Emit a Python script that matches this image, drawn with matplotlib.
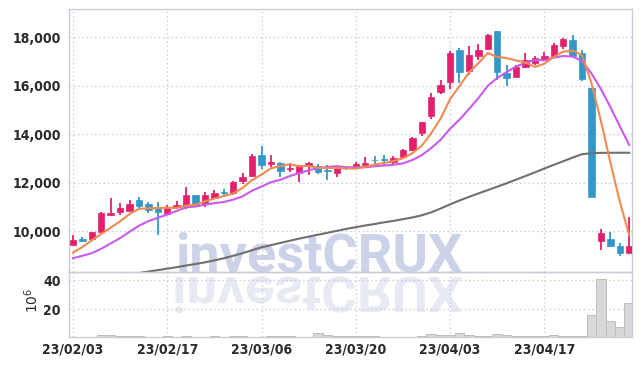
import numpy as np
import pandas as pd
import matplotlib
matplotlib.use("Agg")
import matplotlib.pyplot as plt
from matplotlib.textpath import TextPath
from matplotlib.patches import PathPatch, Rectangle
from matplotlib.font_manager import FontProperties, fontManager
from matplotlib.transforms import Affine2D, IdentityTransform

# ---------------- data ----------------
date_labels = ["23/02/03", "23/02/17", "23/03/06", "23/03/20", "23/04/03", "23/04/17"]
date_label_idx = [0, 10, 20, 30, 40, 50]

opens = [9450, 9690, 9670, 9990, 10680, 10800, 10850, 11290, 11120, 10950,
         10710, 11000, 11090, 11490, 11110, 11370, 11600, 11600, 12090, 12280,
         13140, 12780, 12800, 12570, 12400, 12700, 12690, 12520, 12420, 12630,
         12600, 12740, 12950, 12950, 12870, 13080, 13360, 14070, 14770, 15760,
         16140, 17460, 16620, 17230, 17510, 18260, 16540, 16380, 16790, 16930,
         17070, 17250, 17660, 17890, 17360, 15920, 9620, 9690, 9390, 9120]
highs = [9850, 9760, 9980, 10790, 11360, 11150, 11290, 11400, 11220, 11220,
         11080, 11230, 11840, 11500, 11630, 11700, 11750, 12060, 12390, 13180,
         13520, 13150, 12850, 12800, 12730, 12850, 12780, 12740, 12640, 12700,
         12870, 13080, 13100, 13130, 13100, 13400, 13900, 14520, 15690, 16240,
         17420, 17550, 17630, 17710, 18140, 18270, 16860, 16850, 17340, 17240,
         17380, 17750, 17970, 18100, 17470, 15920, 10080, 9960, 9500, 10600]
lows = [9420, 9560, 9650, 9970, 10650, 10680, 10830, 10950, 10740, 9850,
        10680, 10900, 10920, 11010, 11000, 11330, 11430, 11510, 11950, 12250,
        12560, 12660, 12250, 12460, 12050, 12320, 12360, 12120, 12250, 12540,
        12580, 12660, 12780, 12740, 12740, 13050, 13320, 13930, 14620, 15660,
        15870, 16100, 16450, 17050, 17480, 16240, 15990, 16360, 16720, 16860,
        17030, 17230, 17500, 17200, 16210, 11430, 9230, 9360, 8980, 9090]
closes = [9640, 9620, 9960, 10770, 10760, 10950, 11120, 11040, 10880, 10810,
          11010, 11080, 11500, 11090, 11500, 11590, 11580, 12040, 12250, 13100,
          12730, 12870, 12500, 12620, 12700, 12800, 12460, 12490, 12600, 12620,
          12770, 12830, 12930, 12940, 13010, 13350, 13860, 14490, 15520, 16020,
          17340, 16580, 17270, 17460, 18090, 16580, 16310, 16790, 17050, 17160,
          17240, 17680, 17930, 17230, 16280, 11430, 9920, 9410, 9120, 9390]

# moving-average values before enough in-window closes exist
ma5_head = [9120, 9350, 9630, 9890]
ma10_head = [8890, 8990, 9100, 9280, 9500, 9720, 9980, 10230, 10420]
ma60 = [7880, 7930, 7990, 8040, 8100, 8160, 8220, 8280, 8340, 8400,
        8460, 8520, 8590, 8650, 8720, 8800, 8890, 8990, 9100, 9220,
        9340, 9430, 9520, 9610, 9700, 9780, 9860, 9940, 10020, 10100,
        10170, 10240, 10300, 10370, 10430, 10500, 10570, 10660, 10780, 10940,
        11110, 11270, 11420, 11560, 11700, 11840, 11980, 12130, 12280, 12430,
        12590, 12740, 12890, 13040, 13180, 13220, 13235, 13240, 13240, 13240]

volumes = [1.0, 1.0, 1.3, 2.5, 2.5, 1.8, 1.8, 1.8, 1.0, 1.0,
           1.8, 1.0, 1.8, 1.0, 1.0, 1.8, 1.0, 1.8, 1.8, 1.0,
           1.0, 1.8, 1.8, 1.6, 1.0, 1.0, 4.0, 2.5, 1.8, 1.8,
           1.8, 1.8, 1.8, 1.0, 1.0, 1.0, 1.3, 2.0, 2.9, 2.2,
           2.2, 3.6, 2.2, 1.5, 1.5, 2.9, 2.2, 1.5, 1.5, 1.5,
           1.5, 2.2, 1.5, 1.5, 1.5, 16.3, 41.0, 11.7, 7.9, 24.2]

price_ticks = [10000, 12000, 14000, 16000, 18000]
vol_ticks = [20, 40]
watermark = "investCRUX"

# ---------------- derived ----------------
n = len(closes)
x = np.arange(n)
cs = pd.Series(closes, dtype=float)
ma5 = cs.rolling(5).mean().to_numpy()
ma5[:len(ma5_head)] = ma5_head
ma10 = cs.rolling(10).mean().to_numpy()
ma10[:len(ma10_head)] = ma10_head

# ---------------- style ----------------
RED = "#e4206c"
BLUE = "#3398c8"
ORANGE = "#f08a50"
PURPLE = "#c95aec"
GRAY = "#6f6f6f"
GRID = "#c6cadc"
SPINE = "#c9ccd6"
TXT = "#2a2a2a"

# look for a condensed bold face among installed fonts
tick_fp = None
for pref in ("Noto Sans", "Open Sans", "DejaVu Sans", "Roboto", "Liberation Sans Narrow"):
    for f in fontManager.ttflist:
        if f.name == pref and f.stretch in ("condensed", "semi-condensed", 500 - 125) \
                and (f.weight in ("bold", "semibold", 600, 700)):
            tick_fp = FontProperties(fname=f.fname, size=10)
            break
    if tick_fp is not None:
        break
if tick_fp is None:
    tick_fp = FontProperties(family="Roboto", weight="bold", size=9.5)

W, H = 643, 366
fig = plt.figure(figsize=(W / 100, H / 100), dpi=100)
fig.patch.set_facecolor("white")

axp = fig.add_axes([69 / W, 1 - 272 / H, (632 - 69) / W, (272 - 9) / H])
axv = fig.add_axes([69 / W, 1 - 337 / H, (632 - 69) / W, (337 - 272) / H], sharex=axp)
for ax in (axp, axv):
    ax.set_facecolor("none")
    for s in ax.spines.values():
        s.set_color(SPINE)
        s.set_linewidth(1.0)
    ax.grid(True, linestyle=(0, (1.2, 2.2)), color=GRID, linewidth=0.9)
    ax.tick_params(length=0, colors=TXT)

# candles
body_w = 0.68
for i in x:
    o, h, l, c = opens[i], highs[i], lows[i], closes[i]
    col = RED if c >= o else BLUE
    axp.vlines(i, l, h, color=col, linewidth=1.3, zorder=3)
    bot = min(o, c)
    hgt = max(abs(c - o), 25)
    axp.add_patch(Rectangle((i - body_w / 2, bot), body_w, hgt, facecolor=col,
                            edgecolor=col, linewidth=0.5, zorder=4))

axp.plot(x, ma60, color=GRAY, linewidth=1.5, zorder=5)
axp.plot(x, ma10, color=PURPLE, linewidth=1.5, zorder=5)
axp.plot(x, ma5, color=ORANGE, linewidth=1.5, zorder=5)

axp.set_xlim(-0.42, 59.3)
axp.set_ylim(8322, 19168)
axp.set_yticks(price_ticks)
axp.set_yticklabels([f"{v:,}" for v in price_ticks])
for t in axp.get_yticklabels():
    t.set_fontproperties(tick_fp)
axp.tick_params(axis="y", pad=6)
axp.set_xticks(date_label_idx)
axp.tick_params(axis="x", labelbottom=False)

# volume
axv.bar(x, volumes, width=1.0, color="#d8d8da", edgecolor="#bdbdc0", linewidth=0.7, zorder=3)
axv.set_ylim(1.1, 45.5)
axv.set_yticks(vol_ticks)
axv.set_yticklabels([str(v) for v in vol_ticks])
axv.set_xticks(date_label_idx)
axv.set_xticklabels(date_labels)
for t in axv.get_yticklabels() + axv.get_xticklabels():
    t.set_fontproperties(tick_fp)
axv.tick_params(axis="y", pad=6)
axv.tick_params(axis="x", pad=4)
fig.text(32 / W, 1 - 300 / H, r"$10^6$", rotation=90, ha="center", va="center",
         fontsize=10, color=TXT)

# watermark (real text) with a faint mirrored reflection below
wm_fp = FontProperties(family="Roboto", weight="bold", size=40)
wm = fig.text(175 / W, 1 - 272 / H, watermark, fontproperties=wm_fp, color="#ccd3e8",
              ha="left", va="baseline", zorder=-1)
fig.canvas.draw()
bb = wm.get_window_extent()
scale = 287 / bb.width
wm.set_fontsize(40 * scale)

tp = TextPath((0, 0), watermark, size=100, prop=FontProperties(family="Roboto", weight="bold"))
ext = tp.get_extents()
sx = 287 / ext.width
refl_tr = Affine2D().translate(-ext.x0, 0).scale(sx, -sx * 0.9).translate(175, H - 277)
fig.add_artist(PathPatch(refl_tr.transform_path(tp), transform=IdentityTransform(),
                         facecolor="#e8eaf3", edgecolor="none", zorder=-1))

fig.savefig("out.png", dpi=100, facecolor="white")
